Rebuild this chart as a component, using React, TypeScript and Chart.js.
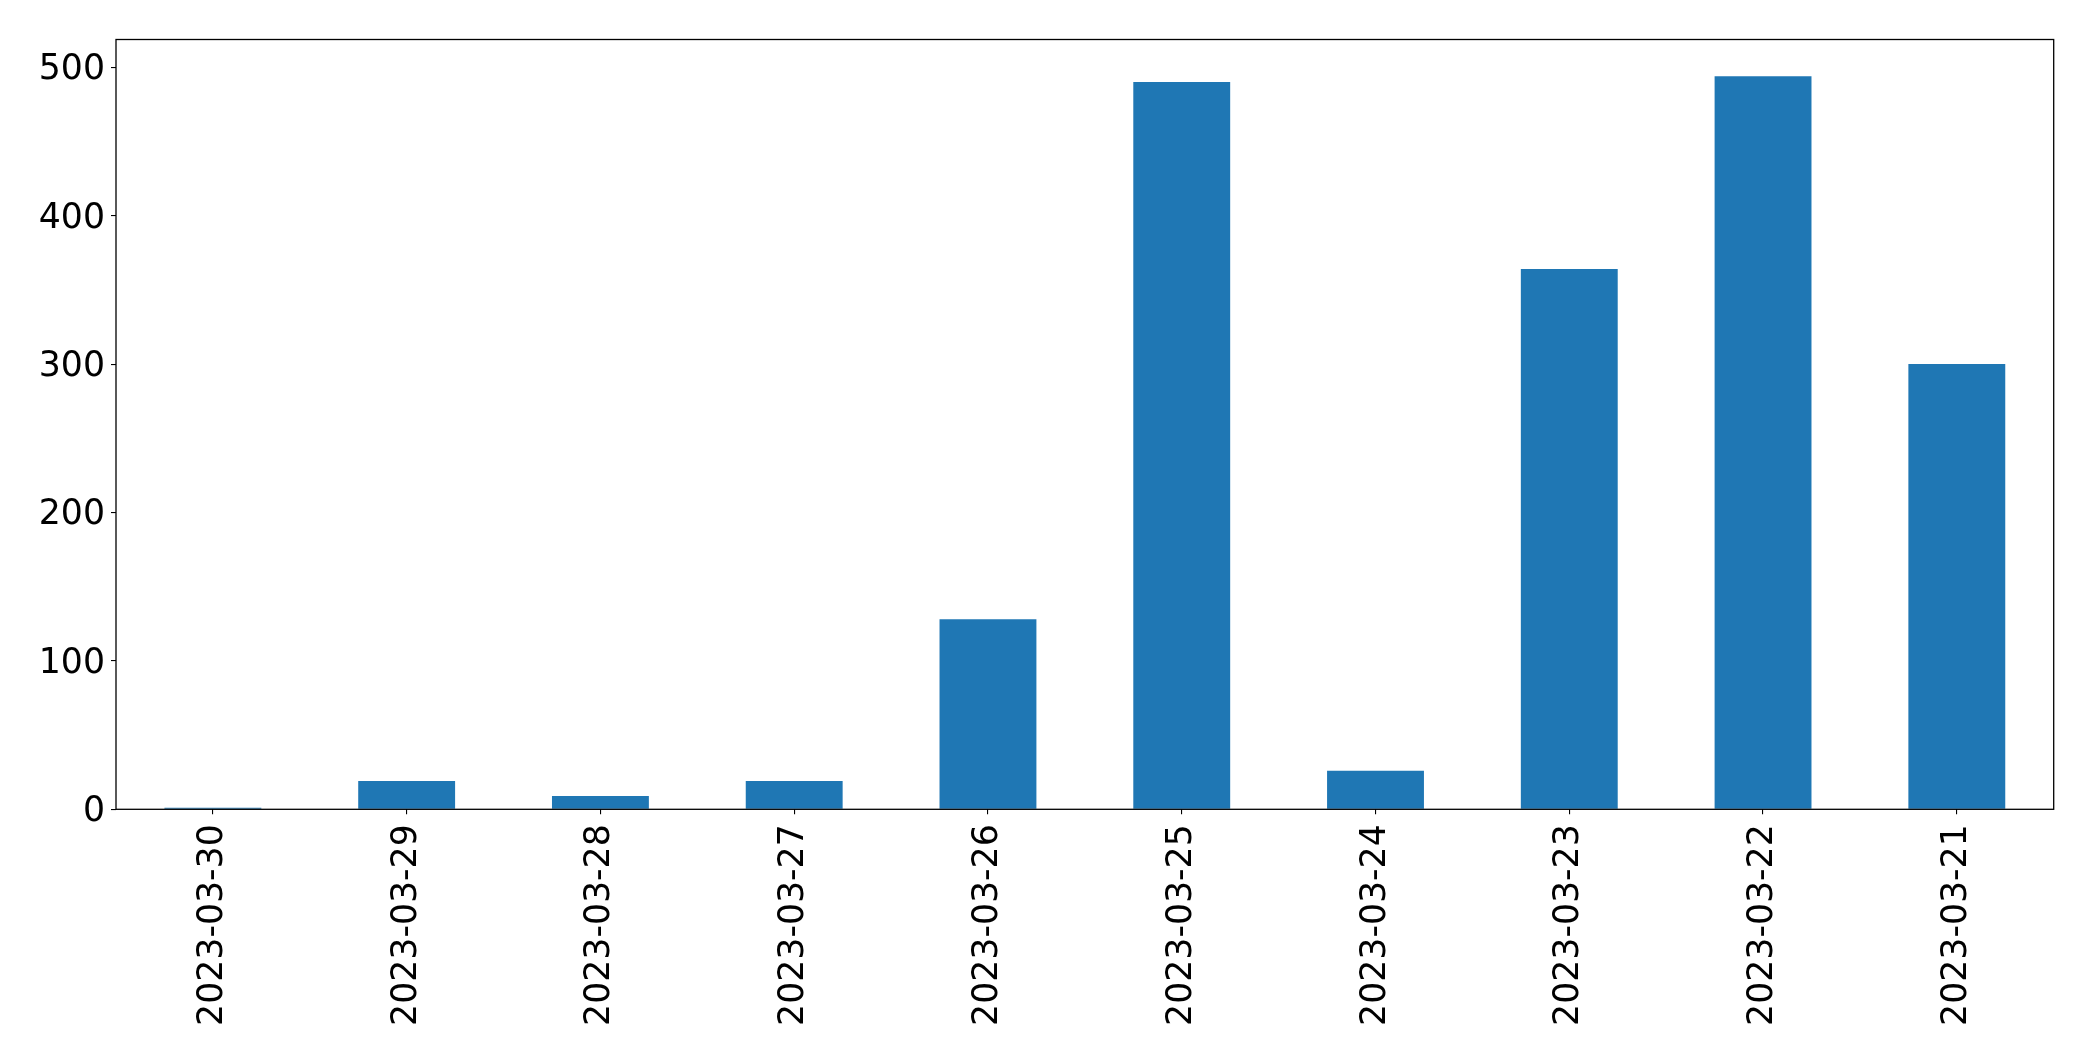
import React, { useEffect, useRef } from "react";
import { Chart, registerables } from "chart.js";

Chart.register(...registerables);

const categories = [
  "2023-03-30", "2023-03-29", "2023-03-28", "2023-03-27", "2023-03-26",
  "2023-03-25", "2023-03-24", "2023-03-23", "2023-03-22", "2023-03-21",
];
const counts = [1, 19, 9, 19, 128, 490, 26, 364, 494, 300];
const yTicks = [0, 100, 200, 300, 400, 500];

const W = 2093;
const H = 1061;
const FONT = { family: "'DejaVu Sans', sans-serif", size: 34.7 };

export default function App() {
  const ref = useRef<HTMLCanvasElement | null>(null);
  useEffect(() => {
    document.body.style.margin = "0";
    const canvas = ref.current!;
    const ymax = Math.max(...counts) * 1.05;
    const framePlugin = {
      id: "frame",
      afterDraw(chart: any) {
        const { ctx, chartArea } = chart;
        ctx.save();
        ctx.strokeStyle = "#000";
        ctx.lineWidth = 1.3;
        ctx.strokeRect(chartArea.left, chartArea.top, chartArea.right - chartArea.left, chartArea.bottom - chartArea.top);
        ctx.restore();
      },
    };
    const chart = new Chart(canvas, {
      type: "bar",
      data: {
        labels: categories,
        datasets: [
          {
            data: counts,
            backgroundColor: "#1f77b4",
            borderWidth: 0,
            barPercentage: 0.5,
            categoryPercentage: 1,
          },
        ],
      },
      options: {
        animation: false,
        responsive: false,
        maintainAspectRatio: false,
        devicePixelRatio: 1,
        layout: { padding: { top: 39.5, right: 39.3, left: 0, bottom: 0 } },
        plugins: { legend: { display: false }, tooltip: { enabled: false } },
        scales: {
          x: {
            offset: true,
            grid: { offset: false, drawOnChartArea: false, drawTicks: true, tickLength: 5, color: "#000", lineWidth: 1.1 },
            border: { display: false },
            ticks: { color: "#000", font: FONT, minRotation: 90, maxRotation: 90, padding: 10, autoSkip: false },
            afterFit(scale: any) {
              scale.height = H - 809.3;
            },
          },
          y: {
            min: 0,
            max: ymax,
            grid: { drawOnChartArea: false, drawTicks: true, tickLength: 5, color: "#000", lineWidth: 1.1 },
            border: { display: false },
            afterBuildTicks(scale: any) {
              scale.ticks = yTicks.map((v) => ({ value: v }));
            },
            ticks: { color: "#000", font: FONT, padding: 6, labelOffset: 3 },
            afterFit(scale: any) {
              scale.width = 116;
            },
          },
        },
      },
      plugins: [framePlugin],
    });
    return () => chart.destroy();
  }, []);
  return (
    <div style={{ position: "absolute", left: 0, top: 0, width: W, height: H, background: "#fff" }}>
      <canvas ref={ref} width={W} height={H} style={{ width: W, height: H, display: "block" }} />
    </div>
  );
}
